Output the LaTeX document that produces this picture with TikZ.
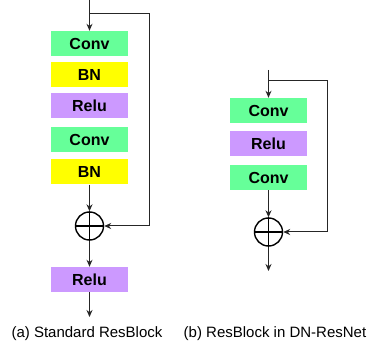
\documentclass[tikz,border=0pt]{standalone}
\usepackage{fontspec}
\setmainfont{Liberation Sans}
\usetikzlibrary{positioning,arrows.meta}
\tikzset{>={Stealth[length=7pt,width=6pt]}}
\definecolor{convgreen}{HTML}{66FF99}
\definecolor{bnyellow}{HTML}{FFFF00}
\definecolor{relupurple}{HTML}{CC99FF}
\tikzset{
	layer/.style={minimum width=77pt, minimum height=25pt, inner sep=0pt, font=\fontsize{16}{18}\selectfont\bfseries},
	conv/.style={layer, fill=convgreen},
	bn/.style={layer, fill=bnyellow},
	relu/.style={layer, fill=relupurple},
	plus/.style={circle, draw, line width=1.4pt, minimum size=28pt, inner sep=0pt},
	line/.style={draw=black!85, line width=1pt},
	caption/.style={font=\fontsize{15}{17}\selectfont, anchor=base}
}

\begin{document}
\begin{tikzpicture}[x=1pt, y=-1pt]
				\useasboundingbox (0,0) rectangle (373,350);
				% (a) standard resblock
				\coordinate (ain) at (89.5,0);
				\coordinate (asplit) at (89.5,14);
				\coordinate (aright) at (149,14);
				\node[conv] (a1) at (89.5,43.5) {Conv};
				\node[bn] (a2) at (89.5,74.5) {BN};
				\node[relu] (a3) at (89.5,106) {Relu};
				\node[conv] (a4) at (89.5,140) {Conv};
				\node[bn] (a5) at (89.5,172) {BN};
				\node[plus] (aadd) at (89.5,226) {};
				\draw[line width=1.2pt] (aadd.north) -- (aadd.south) (aadd.west) -- (aadd.east);
				\node[relu] (a6) at (89.5,279.5) {Relu};
				\coordinate (aout) at (89.5,317);
				\draw[line,->] (ain) -- (a1.north);
				\draw[line,->] (a5.south) -- (aadd.north);
				\draw[line,->] (aadd.south) -- (a6.north);
				\draw[line,->] (a6.south) -- (aout);
				\draw[line,->] (asplit) -- (aright) |- (aadd.east);
				% (b) resblock in dn-resnet
				\coordinate (bin) at (268.5,70);
				\coordinate (bsplit) at (268.5,81);
				\coordinate (bright) at (327,81);
				\node[conv] (b1) at (268.5,110.5) {Conv};
				\node[relu] (b2) at (268.5,143.5) {Relu};
				\node[conv] (b3) at (268.5,177.5) {Conv};
				\node[plus] (badd) at (268.5,232) {};
				\draw[line width=1.2pt] (badd.north) -- (badd.south) (badd.west) -- (badd.east);
				\coordinate (bout) at (268.5,271);
				\draw[line,->] (bin) -- (b1.north);
				\draw[line,->] (b3.south) -- (badd.north);
				\draw[line,->] (badd.south) -- (bout);
				\draw[line,->] (bsplit) -- (bright) |- (badd.east);
				% captions
				\node[caption] (acap) at (87,338) {(a) Standard ResBlock};
				\node[caption] (bcap) at (275,338) {(b) ResBlock in DN-ResNet};
\end{tikzpicture}
\end{document}
